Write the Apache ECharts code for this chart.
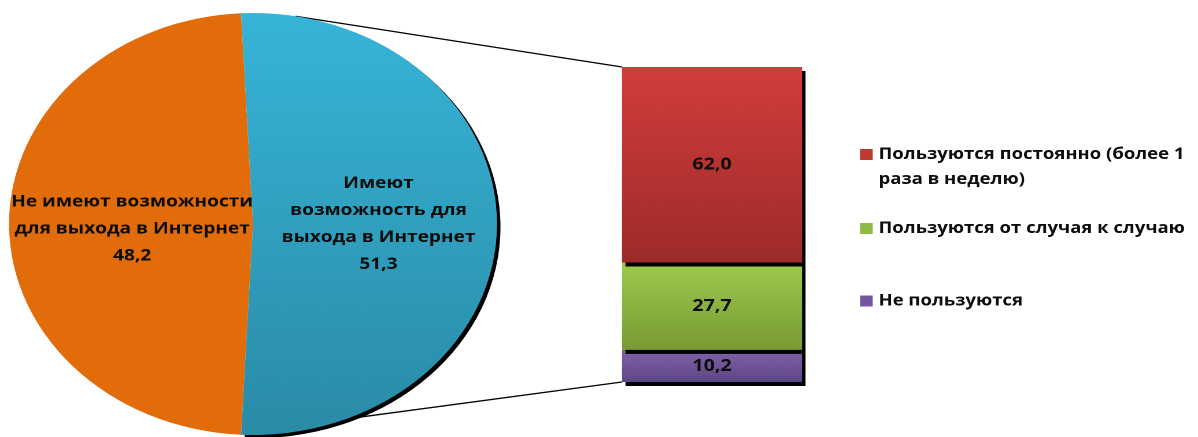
<!DOCTYPE html>
<html>
<head>
<meta charset="utf-8">
<script src="https://cdn.jsdelivr.net/npm/echarts@6/dist/echarts.min.js"></script>
<style>
  html, body { margin: 0; padding: 0; background: #ffffff; overflow: hidden; }
  /* the chart is laid out narrower and stretched horizontally to the page width */
  #chart { width: 1036px; height: 437px; transform: scaleX(1.15637); transform-origin: 0 0; }
</style>
</head>
<body>
<div id="chart"></div>
<script>
// Доступ к Интернету (пирог)
const pieNames = ['Не имеют возможности для выхода в Интернет', 'Имеют возможность для выхода в Интернет'];
const pieLabelText = ['Не имеют возможности\nдля выхода в Интернет', 'Имеют\nвозможность для\nвыхода в Интернет'];
const pieValues = [48.2, 51.3];

// Частота пользования (столбец), сверху вниз
const usageNames = ['Пользуются постоянно (более 1 раза в неделю)', 'Пользуются от случая к случаю', 'Не пользуются'];
const usageLegendText = ['Пользуются постоянно (более 1\nраза в неделю)', 'Пользуются от случая к случаю', 'Не пользуются'];
const usageValues = [62.0, 27.7, 10.2];

const FONT = '"Open Sans", "DejaVu Sans", sans-serif';
const TEXT = '#0d0d0d';
const fmt = v => v.toFixed(1).replace('.', ',');

const chart = echarts.init(document.getElementById('chart'), null, { renderer: 'canvas', devicePixelRatio: 2 });

const PIE = { cx: 218.8, cy: 224, r: 211 };
const BAR = { left: 537.9, top: 67, width: 155.7, height: 315 };

const pieTotal = pieValues.reduce((a, b) => a + b, 0);
const usageTotal = usageValues.reduce((a, b) => a + b, 0);

function vgrad(top, bottom) {
  return new echarts.graphic.LinearGradient(0, 0, 0, 1, [
    { offset: 0, color: top }, { offset: 1, color: bottom }
  ]);
}

const pieItems = [
  { itemStyle: { color: '#e36c0a' }, label: { offset: [4, 5] } },
  { itemStyle: { color: vgrad('#37b4d8', '#2a8ba6'), shadowColor: '#000000', shadowOffsetX: 3, shadowOffsetY: 3, shadowBlur: 0 } }
];
const usageColors = [
  vgrad('#d23d3b', '#9c2b2a'),
  vgrad('#9fca4c', '#789a35'),
  vgrad('#8161ab', '#5d4683')
];
const usageIconColors = ['#c0392f', '#8fba44', '#7456a0'];

// stacked column: bottom segment first
const barSeries = usageNames.map((name, i) => ({
  name: name,
  type: 'bar',
  stack: 'usage',
  barWidth: '100%',
  silent: true,
  z: 2,
  data: [usageValues[i]],
  itemStyle: {
    color: usageColors[i],
    shadowColor: '#000000', shadowOffsetX: 3, shadowOffsetY: 4, shadowBlur: 0
  },
  label: {
    show: true, position: 'inside',
    formatter: p => fmt(p.value),
    fontFamily: FONT, fontSize: 17, fontWeight: 'bold', color: TEXT
  }
})).reverse();

// the icon sits on the first text line; a leading empty line balances two-line entries
const legendTops = [117, 216, 288.5];
const legends = usageNames.map((name, i) => ({
  data: [{ name: name, itemStyle: { color: usageIconColors[i] } }],
  orient: 'vertical',
  left: 743.7,
  top: legendTops[i],
  padding: 0,
  itemWidth: 11,
  itemHeight: 11,
  icon: 'rect',
  selectedMode: false,
  formatter: () => usageLegendText[i].indexOf('\n') >= 0 ? ' \n' + usageLegendText[i] : usageLegendText[i],
  textStyle: {
    fontFamily: FONT, fontSize: 16, fontWeight: 'bold', color: TEXT, lineHeight: 25
  }
}));

chart.setOption({
  animation: false,
  backgroundColor: '#ffffff',
  grid: { left: BAR.left, top: BAR.top, width: BAR.width, height: BAR.height, containLabel: false },
  xAxis: { type: 'category', data: ['usage'], show: false },
  yAxis: { type: 'value', min: 0, max: usageTotal, show: false },
  legend: legends,
  series: [
    {
      type: 'pie',
      center: [PIE.cx, PIE.cy],
      radius: PIE.r,
      startAngle: 180 + 180 * pieValues[0] / pieTotal,
      clockwise: true,
      silent: true,
      z: 3,
      avoidLabelOverlap: false,
      label: {
        show: true, position: 'inside',
        formatter: p => pieLabelText[p.dataIndex] + '\n' + fmt(p.value),
        fontFamily: FONT, fontSize: 16.5, fontWeight: 'bold', color: TEXT,
        lineHeight: 27, align: 'center'
      },
      labelLine: { show: false },
      data: pieNames.map((name, i) => Object.assign({ name: name, value: pieValues[i] }, pieItems[i]))
    }
  ].concat(barSeries)
});

// connector lines from the pie rim to the column's top and bottom corners
const yTop = chart.convertToPixel({ yAxisIndex: 0 }, usageTotal);
const yBottom = chart.convertToPixel({ yAxisIndex: 0 }, 0);
const xCol = chart.convertToPixel({ xAxisIndex: 0 }, 'usage') - BAR.width / 2;
const rimPoint = (degFromTop) => {
  const a = degFromTop * Math.PI / 180;
  return [PIE.cx + PIE.r * Math.sin(a), PIE.cy - PIE.r * Math.cos(a)];
};
const pTop = rimPoint(10);
const pBottom = rimPoint(157.5);
chart.setOption({
  graphic: [
    { type: 'line', z: 1, silent: true, shape: { x1: pTop[0], y1: pTop[1], x2: xCol, y2: yTop }, style: { stroke: '#000000', lineWidth: 1.3 } },
    { type: 'line', z: 1, silent: true, shape: { x1: pBottom[0], y1: pBottom[1], x2: xCol, y2: yBottom }, style: { stroke: '#000000', lineWidth: 1.3 } }
  ]
});
</script>
</body>
</html>
